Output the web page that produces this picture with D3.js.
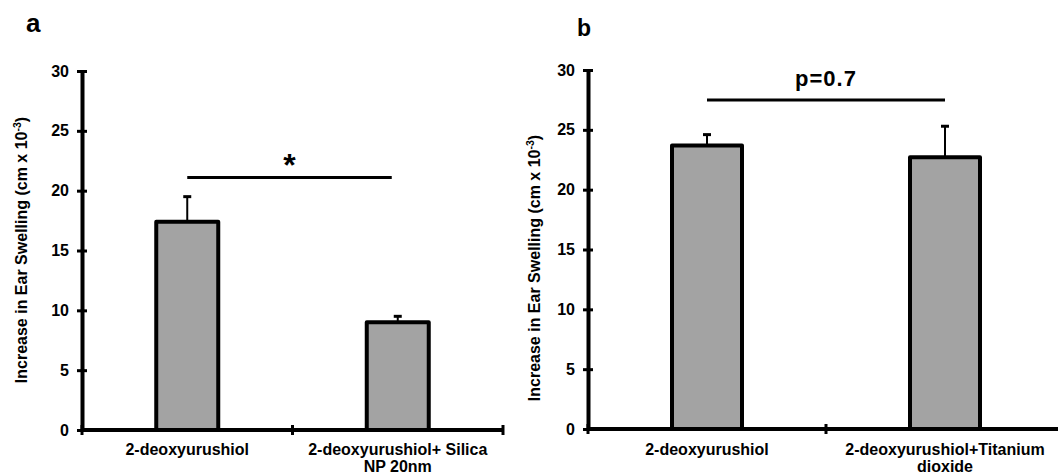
<!DOCTYPE html>
<html>
<head>
<meta charset="utf-8">
<script src="https://cdn.jsdelivr.net/npm/d3@7"></script>
<style>
  html, body { margin: 0; padding: 0; background: #fff; }
  svg { display: block; }
  text { font-family: "Liberation Sans", Arial, sans-serif; font-weight: bold; fill: #000; }
</style>
</head>
<body>
<svg id="chart" width="1058" height="475"></svg>
<script>
// ---- data ----
const yTicks = [0, 5, 10, 15, 20, 25, 30];

const categoriesA = [["2-deoxyurushiol"], ["2-deoxyurushiol+ Silica", "NP 20nm"]];
const valuesA = [17.4, 9.0];
const errorsA = [2.1, 0.5];
const sigA = { label: "*", value: 21.1 };

const categoriesB = [["2-deoxyurushiol"], ["2-deoxyurushiol+Titanium", "dioxide"]];
const valuesB = [23.7, 22.7];
const errorsB = [0.9, 2.6];
const sigB = { label: "p=0.7", value: 27.5 };

const yTitle = "Increase in Ear Swelling (cm x 10";

// ---- drawing ----
const svg = d3.select("#chart");

function panel(opts) {
  const { letter, letterX, letterY, letterSize, x0, x1, yTop, yBottom, barW, cats, vals, errs, sig,
          sigFont, sigLabelY, sigSpacing, titleX, titleY, sigEndAdj } = opts;
  const g = svg.append("g");
  const y = d3.scaleLinear().domain([0, 30]).range([yBottom, yTop]);
  const x = d3.scaleBand().domain(d3.range(cats.length)).range([x0, x1]).padding(0);

  // panel letter
  g.append("text").attr("x", letterX).attr("y", letterY)
    .style("font-size", letterSize).text(letter);

  // y title
  const t = g.append("text")
    .attr("transform", `translate(${titleX},${titleY}) rotate(-90)`)
    .attr("text-anchor", "middle")
    .style("font-size", "16px");
  t.append("tspan").text(yTitle);
  t.append("tspan").attr("dy", "-6").style("font-size", "10.5px").text("-3");
  t.append("tspan").attr("dy", "6").text(")");

  // bars
  x.domain().forEach(i => {
    const cx = x(i) + x.bandwidth() / 2;
    g.append("line")
      .attr("x1", cx).attr("x2", cx)
      .attr("y1", y(vals[i])).attr("y2", y(vals[i] + errs[i]))
      .attr("stroke", "#000").attr("stroke-width", 2);
    g.append("line")
      .attr("x1", cx - 4).attr("x2", cx + 4)
      .attr("y1", y(vals[i] + errs[i])).attr("y2", y(vals[i] + errs[i]))
      .attr("stroke", "#000").attr("stroke-width", 3);
    g.append("rect")
      .attr("x", cx - barW / 2).attr("width", barW)
      .attr("y", y(vals[i])).attr("height", y(0) - y(vals[i]))
      .attr("fill", "#a3a3a3").attr("stroke", "#000").attr("stroke-width", 4)
      .attr("stroke-linejoin", "round");
  });

  // y axis
  const ya = g.append("g").attr("transform", `translate(${x0},0)`)
    .call(d3.axisLeft(y).tickValues(yTicks).tickSize(5).tickSizeOuter(0).tickPadding(8));
  ya.select(".domain").attr("stroke", "#000").attr("stroke-width", 4);
  ya.selectAll(".tick line").attr("x1", 5).attr("stroke", "#000").attr("stroke-width", 3);
  ya.selectAll(".tick text").style("font-size", "16px")
    .style("font-family", "'Liberation Sans', Arial, sans-serif").style("font-weight", "bold");

  // x axis
  g.append("line").attr("x1", x0).attr("x2", x1).attr("y1", y(0)).attr("y2", y(0))
    .attr("stroke", "#000").attr("stroke-width", 4);
  const edges = x.domain().map(i => x(i)).concat([x(cats.length - 1) + x.bandwidth()]);
  edges.forEach(ex => {
    g.append("line").attr("x1", ex).attr("x2", ex)
      .attr("y1", y(0) - 5).attr("y2", y(0) + 5)
      .attr("stroke", "#000").attr("stroke-width", 3);
  });
  x.domain().forEach(i => {
    const cx = x(i) + x.bandwidth() / 2;
    const txt = g.append("text").attr("text-anchor", "middle")
      .style("font-size", "16px");
    cats[i].forEach((line, k) => {
      txt.append("tspan").attr("x", cx).attr("y", 455 + k * 17).text(line);
    });
  });

  // significance bracket
  const c0 = x(0) + x.bandwidth() / 2;
  const c1 = x(1) + x.bandwidth() / 2 + sigEndAdj;
  g.append("line").attr("x1", c0).attr("x2", c1)
    .attr("y1", y(sig.value)).attr("y2", y(sig.value))
    .attr("stroke", "#000").attr("stroke-width", 3);
  g.append("text").attr("x", (c0 + c1) / 2).attr("y", sigLabelY)
    .attr("text-anchor", "middle").attr("letter-spacing", sigSpacing)
    .style("font-size", sigFont).text(sig.label);
}

panel({
  letter: "a", letterX: 26, letterY: 32, letterSize: "26px",
  x0: 82, x1: 503, yTop: 71, yBottom: 430, barW: 62,
  cats: categoriesA, vals: valuesA, errs: errorsA, sig: sigA,
  sigFont: "32px", sigLabelY: 176, sigSpacing: "0px",
  titleX: 27, titleY: 250, sigEndAdj: -6
});

panel({
  letter: "b", letterX: 577, letterY: 36, letterSize: "23px",
  x0: 588, x1: 1064, yTop: 70, yBottom: 429, barW: 70,
  cats: categoriesB, vals: valuesB, errs: errorsB, sig: sigB,
  sigFont: "22px", sigLabelY: 86, sigSpacing: "1px",
  titleX: 540, titleY: 268, sigEndAdj: 0
});
</script>
</body>
</html>
